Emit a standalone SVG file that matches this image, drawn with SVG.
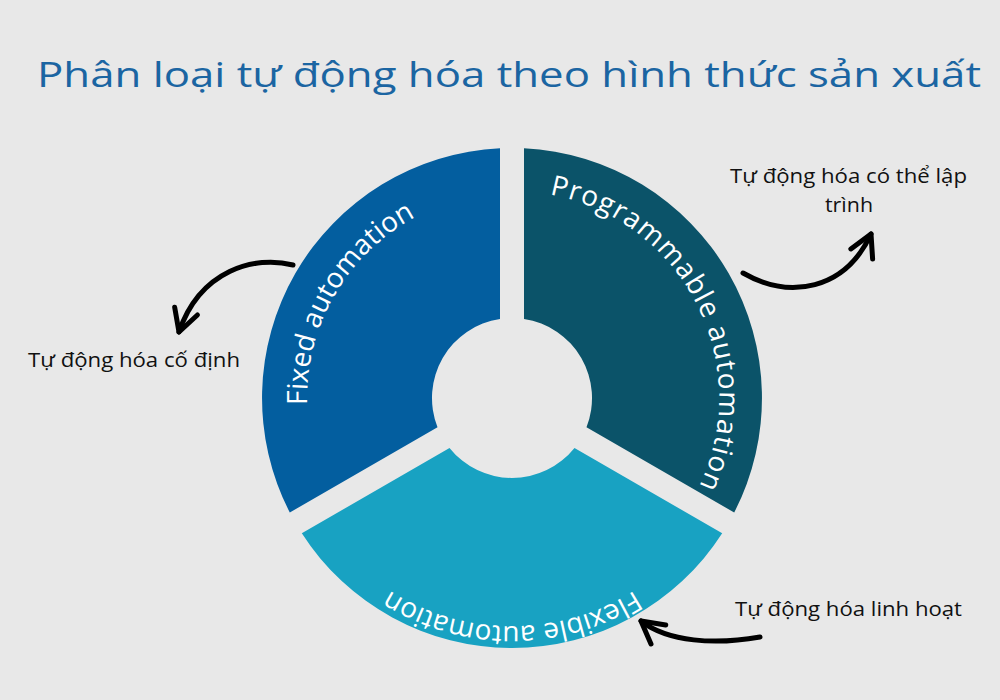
<svg xmlns="http://www.w3.org/2000/svg" width="1000" height="700" viewBox="0 0 1000 700">
<style>
.seg-text{font-family:"Open Sans","Liberation Sans",sans-serif;font-size:28px;fill:#ffffff;}
.label{font-family:"Open Sans","Liberation Sans",sans-serif;font-size:19.5px;fill:#111111;}
.title{font-family:"Open Sans","Liberation Sans",sans-serif;font-size:35px;fill:#1B65A2;}
.conn{fill:none;stroke:#000000;stroke-width:5;stroke-linecap:round;stroke-linejoin:round;}
</style>
<defs>
<marker id="chev" markerUnits="userSpaceOnUse" viewBox="-30 -20 36 40" refX="0" refY="0" markerWidth="36" markerHeight="40" orient="auto" overflow="visible">
<path d="M -22,-12 L 0,0 L -22,12" fill="none" stroke="#000000" stroke-width="5" stroke-linecap="round" stroke-linejoin="round"/>
</marker>
<path id="arcLeft" d="M 319.4,468.1 A 205 205 0 0 1 476.4,196.1"/>
<path id="arcRight" d="M 540.8,193.0 A 207 207 0 0 1 694.8,495.2"/>
<path id="arcBottom" d="M 686.7,544.6 A 228 228 0 0 1 337.3,544.6"/>
</defs>
<rect x="0" y="0" width="1000" height="700" fill="#E8E8E8"/>
<text class="title" x="37" y="87" textLength="944" lengthAdjust="spacingAndGlyphs">Phân loại tự động hóa theo hình thức sản xuất</text>

<g id="fixed">
<path d="M 500,148.3 A 250 250 0 0 0 289.8,512.5 L 437.5,427.2 A 80 80 0 0 1 500,318.9 Z" fill="#035E9F"/>
<text class="seg-text"><textPath href="#arcLeft" startOffset="50%" text-anchor="middle">Fixed automation</textPath></text>
</g>
<g id="programmable">
<path d="M 524,148.3 A 250 250 0 0 1 734.2,512.5 L 586.5,427.2 A 80 80 0 0 0 524,318.9 Z" fill="#0B5369"/>
<text class="seg-text" letter-spacing="1.1"><textPath href="#arcRight" startOffset="50%" text-anchor="middle">Programmable automation</textPath></text>
</g>
<g id="flexible">
<path d="M 301.8,533.3 A 250 250 0 0 0 722.2,533.3 L 574.5,447.9 A 80 80 0 0 1 449.5,447.9 Z" fill="#18A2C2"/>
<text class="seg-text"><textPath href="#arcBottom" startOffset="50%" text-anchor="middle">Flexible automation</textPath></text>
</g>

<g id="label-fixed">
<text class="label" x="28" y="367" textLength="212" lengthAdjust="spacingAndGlyphs">Tự động hóa cố định</text>
</g>
<g id="label-programmable">
<text class="label" x="730" y="183" textLength="237" lengthAdjust="spacingAndGlyphs">Tự động hóa có thể lập</text>
<text class="label" x="825" y="212" textLength="48" lengthAdjust="spacingAndGlyphs">trình</text>
</g>
<g id="label-flexible">
<text class="label" x="735" y="616" textLength="227" lengthAdjust="spacingAndGlyphs">Tự động hóa linh hoạt</text>
</g>

<g id="connectors">
<path class="conn" d="M 293,265 C 255,255 200,270 179,332" marker-end="url(#chev)"/>
<path class="conn" d="M 743,273 C 790,300 845,290 871,234" marker-end="url(#chev)"/>
<path class="conn" d="M 760,637 C 715,645 668,642 641,621" marker-end="url(#chev)"/>
</g>
</svg>
